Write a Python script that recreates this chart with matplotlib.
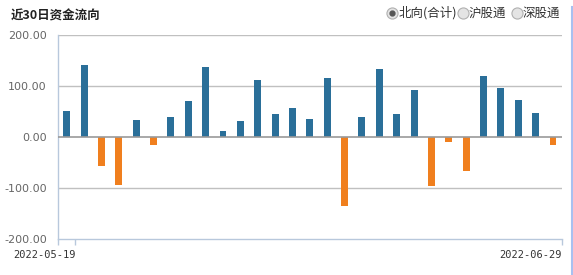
import matplotlib.pyplot as plt
from matplotlib.lines import Line2D

plt.rcParams['font.family'] = ['Noto Sans CJK SC', 'DejaVu Sans']

dates = ['2022-05-19', '2022-05-20', '2022-05-23', '2022-05-24', '2022-05-25',
         '2022-05-26', '2022-05-27', '2022-05-30', '2022-05-31', '2022-06-01',
         '2022-06-02', '2022-06-06', '2022-06-07', '2022-06-08', '2022-06-09',
         '2022-06-10', '2022-06-13', '2022-06-14', '2022-06-15', '2022-06-16',
         '2022-06-17', '2022-06-20', '2022-06-21', '2022-06-22', '2022-06-23',
         '2022-06-24', '2022-06-27', '2022-06-28', '2022-06-29']
flow = [52, 142, -56, -94, 34, -15, 40, 72, 138, 13,
        32, 113, 46, 58, 36, 116, -134, 40, 134, 46,
        93, -95, -9, -67, 120, 97, 73, 48, -15]
yticks = [-200, -100, 0, 100, 200]
legend_items = ['北向(合计)', '沪股通', '深股通']

blue = '#2a6f99'
orange = '#f07f1e'
axis_col = '#b8c8dc'

W, H = 573, 275
fig = plt.figure(figsize=(W / 100, H / 100), dpi=100)
ax = fig.add_axes([58 / W, 1 - 239.3 / H, (561.7 - 58) / W, (239.3 - 35.3) / H])

x = [i + 0.5 for i in range(len(flow))]
cols = [blue if v >= 0 else orange for v in flow]
ax.bar(x, flow, width=0.4, color=cols, zorder=3)

ax.set_xlim(0, len(flow))
ax.set_ylim(-200, 200)
for v in [100, 200, -100]:
    ax.axhline(v, color='#c0c0c0', lw=1, zorder=1)
ax.axhline(0, color='#999999', lw=1.2, zorder=4)

ax.set_yticks(yticks)
ax.set_yticklabels(['%.2f' % v for v in yticks], family='DejaVu Sans',
                   fontsize=8, color='#666666')
ax.tick_params(axis='y', length=0, pad=8)

ax.set_xticks([0, 1, len(flow)])
ax.set_xticklabels(['', dates[0], dates[-1]], family='DejaVu Sans Mono',
                   fontsize=7.5, color='#333333', ha='right')
ax.tick_params(axis='x', length=4, width=1, color=axis_col, pad=4)

for s in ['top', 'right']:
    ax.spines[s].set_visible(False)
for s in ['left', 'bottom']:
    ax.spines[s].set_color(axis_col)
    ax.spines[s].set_linewidth(1)

fig.text(11 / W, 1 - 16.5 / H, '近30日资金流向', fontsize=9, fontweight='bold',
         color='#222222', va='center', ha='left')

# radio-button style selector
circ_x = [392, 463.3, 516.7]
text_x = [398.5, 469, 522.5]
cy = 1 - 13 / H
for i, lab in enumerate(legend_items):
    fig.add_artist(Line2D([circ_x[i] / W], [cy], marker='o', markersize=8,
                          markerfacecolor='#e4e4e4', markeredgecolor='#b0b0b0',
                          markeredgewidth=0.8, transform=fig.transFigure))
    if i == 0:
        fig.add_artist(Line2D([circ_x[i] / W], [cy], marker='o', markersize=3.5,
                              markerfacecolor='#555555', markeredgecolor='#555555',
                              transform=fig.transFigure))
    fig.text(text_x[i] / W, cy, lab, fontsize=9, color='#333333',
             va='center', ha='left')

fig.add_artist(Line2D([571.5 / W, 571.5 / W], [0, 1 - 7 / H], color='#a8c0f0',
                      lw=1.5, transform=fig.transFigure))

fig.savefig('out.png', dpi=100)
